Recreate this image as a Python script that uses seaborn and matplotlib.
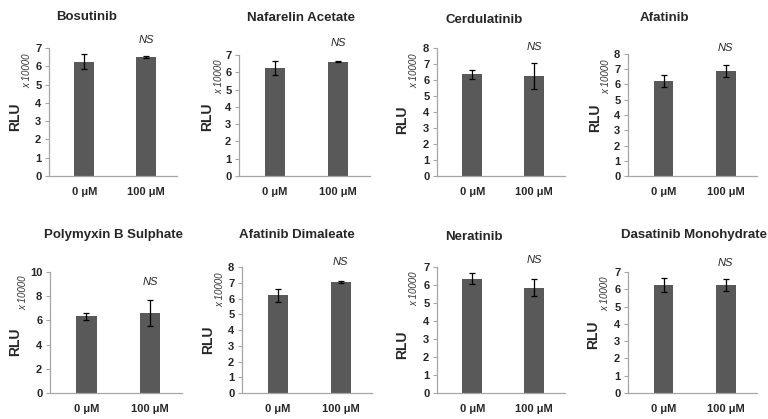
import matplotlib
matplotlib.use("Agg")
import matplotlib.pyplot as plt
import seaborn as sns
import pandas as pd

sns.set_theme(style="white")
plt.rcParams["font.family"] = ["Liberation Sans", "DejaVu Sans"]

# data (RLU x 10000)
drugs = ["Bosutinib", "Nafarelin Acetate", "Cerdulatinib", "Afatinib",
         "Polymyxin B Sulphate", "Afatinib Dimaleate", "Neratinib", "Dasatinib Monohydrate"]
doses = ["0 μM", "100 μM"]
ctrl_mean = [6.25, 6.25, 6.35, 6.25, 6.35, 6.2, 6.35, 6.25]
ctrl_err = [0.42, 0.4, 0.3, 0.4, 0.3, 0.4, 0.3, 0.4]
treat_mean = [6.5, 6.6, 6.25, 6.9, 6.6, 7.05, 5.85, 6.25]
treat_err = [0.05, 0.03, 0.8, 0.38, 1.05, 0.08, 0.48, 0.35]
y_max = [7, 7, 8, 8, 10, 8, 7, 7]
y_step = [1, 1, 1, 1, 2, 1, 1, 1]

# layout in pixels: left, right, top(ymax), bottom(y=0)
W, H = 768, 419
axes_px = [(49, 177, 48, 176), (239, 370, 55, 176), (437, 565, 48, 176), (628, 757, 54, 176),
           (50, 182, 272, 393), (242, 372, 267, 393), (437, 565, 267, 393), (628, 757, 272, 393)]
title_px = [(87, 17), (301, 18), (484, 20), (664, 18), (114, 235), (297, 235), (474, 237), (694, 235)]
rlu_px = [(15, 117), (207, 117), (402, 120), (595, 118), (15, 342), (208, 340), (402, 345), (593, 335)]
mult_px = [(27, 71), (219, 77), (414, 71), (606, 77), (23, 293), (220, 290), (414, 289), (605, 294)]
ns_y = [7.43, 7.69, 8.06, 8.4, 9.17, 8.32, 7.39, 7.51]

bar_color = "#595959"
spine_color = "#a6a6a6"

fig = plt.figure(figsize=(W / 100, H / 100), dpi=100)

for i, drug in enumerate(drugs):
    l, r, t, b = axes_px[i]
    ax = fig.add_axes([l / W, 1 - b / H, (r - l) / W, (b - t) / H])
    df = pd.DataFrame({"dose": doses, "rlu": [ctrl_mean[i], treat_mean[i]]})
    sns.barplot(data=df, x="dose", y="rlu", color=bar_color, width=0.32,
                saturation=1, ax=ax, edgecolor="none")
    ax.errorbar([0, 1], [ctrl_mean[i], treat_mean[i]], yerr=[ctrl_err[i], treat_err[i]],
                fmt="none", ecolor="black", elinewidth=0.9, capsize=2.5, capthick=0.9)
    ax.set_xlim(-0.57, 1.5)
    ax.set_ylim(0, y_max[i])
    ax.set_yticks(range(0, y_max[i] + 1, y_step[i]))
    ax.set_xlabel("")
    ax.set_ylabel("")
    for s in ["top", "right"]:
        ax.spines[s].set_visible(False)
    for s in ["left", "bottom"]:
        ax.spines[s].set_color(spine_color)
        ax.spines[s].set_linewidth(0.9)
    ax.tick_params(axis="y", left=True, length=3, width=0.8, color=spine_color,
                   labelsize=8, pad=2.5)
    ax.tick_params(axis="x", bottom=False, labelsize=8, pad=2)
    for lab in ax.get_xticklabels() + ax.get_yticklabels():
        lab.set_fontweight("bold")
    ax.text(1, ns_y[i], "NS", ha="center", va="center", fontsize=8, style="italic")

    tx, ty = title_px[i]
    fig.text(tx / W, 1 - ty / H, drug, ha="center", va="center", fontsize=9.5, fontweight="bold")
    rx, ry = rlu_px[i]
    fig.text(rx / W, 1 - ry / H, "RLU", ha="center", va="center", rotation=90,
             fontsize=10, fontweight="bold")
    mx, my = mult_px[i]
    fig.text(mx / W, 1 - my / H, "x 10000", ha="center", va="center", rotation=90,
             fontsize=7, style="italic", color="#333333")

fig.savefig("out.png", dpi=100)
